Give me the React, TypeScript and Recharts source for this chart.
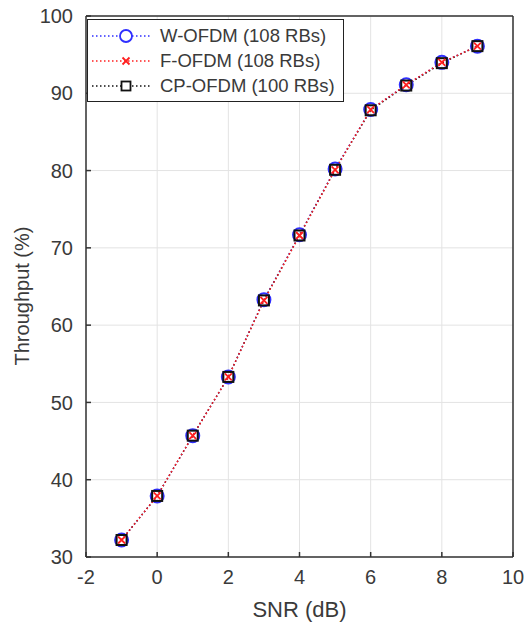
import React from 'react';
import {
  LineChart,
  Line,
  XAxis,
  YAxis,
  CartesianGrid,
  ReferenceLine,
  Label
} from 'recharts';

const snr = [-1, 0, 1, 2, 3, 4, 5, 6, 7, 8, 9];
const wOfdm = [32.2, 37.9, 45.7, 53.3, 63.3, 71.7, 80.2, 87.9, 91.1, 94.0, 96.1];
const fOfdm = [32.2, 37.9, 45.7, 53.3, 63.2, 71.6, 80.1, 87.9, 91.1, 94.0, 96.1];
const cpOfdm = [32.2, 37.9, 45.7, 53.3, 63.2, 71.6, 80.1, 87.8, 91.0, 93.9, 96.1];

const xTicks = [-2, 0, 2, 4, 6, 8, 10];
const yTicks = [30, 40, 50, 60, 70, 80, 90, 100];

const data = snr.map((x, i) => ({ snr: x, w: wOfdm[i], f: fOfdm[i], cp: cpOfdm[i] }));

const font = '"Liberation Sans", Arial, Helvetica, sans-serif';
const txt = '#3a3a3a';

const BLUE = '#2f2fff';
const RED = '#ff1f1f';
const BLACK = '#111';

const circleDot = (p: any) => (
  <circle key={'w' + p.index} cx={p.cx} cy={p.cy} r={6.5} fill="none" stroke={BLUE} strokeWidth={2} />
);
const squareDot = (p: any) => (
  <rect key={'c' + p.index} x={p.cx - 5} y={p.cy - 5} width={10} height={10} fill="none" stroke={BLACK} strokeWidth={2} />
);
const crossDot = (p: any) => (
  <path
    key={'f' + p.index}
    d={`M${p.cx - 3.5},${p.cy - 3.5}L${p.cx + 3.5},${p.cy + 3.5}M${p.cx + 3.5},${p.cy - 3.5}L${p.cx - 3.5},${p.cy + 3.5}`}
    stroke={RED}
    strokeWidth={1.8}
    fill="none"
  />
);

const legendItems = [
  { name: 'W-OFDM (108 RBs)', color: BLUE, marker: 'o' },
  { name: 'F-OFDM (108 RBs)', color: RED, marker: 'x' },
  { name: 'CP-OFDM (100 RBs)', color: BLACK, marker: 's' }
];

const LegendBox = () => (
  <div
    style={{
      position: 'absolute',
      left: 87,
      top: 19,
      width: 255,
      height: 78,
      border: '1.5px solid #222',
      background: '#fff',
      fontFamily: font,
      fontSize: 18.5,
      color: txt,
      paddingTop: 3
    }}
  >
    {legendItems.map(it => (
      <div key={it.name} style={{ display: 'flex', alignItems: 'center', height: 25 }}>
        <svg width={72} height={20} style={{ flex: 'none' }}>
          <line x1={4} y1={10} x2={64} y2={10} stroke={it.color} strokeWidth={1.3} strokeDasharray="1.5 2.5" />
          {it.marker === 'o' && <circle cx={38} cy={10} r={6} fill="#fff" stroke={it.color} strokeWidth={1.8} />}
          {it.marker === 'x' && (
            <path d="M34.5,6.5L41.5,13.5M41.5,6.5L34.5,13.5" stroke={it.color} strokeWidth={1.8} />
          )}
          {it.marker === 's' && <rect x={33.5} y={5.5} width={9} height={9} fill="#fff" stroke={it.color} strokeWidth={1.8} />}
        </svg>
        <span style={{ whiteSpace: 'nowrap' }}>{it.name}</span>
      </div>
    ))}
  </div>
);

export default function App() {
  return (
    <div style={{ position: 'absolute', left: 0, top: 0, width: 526, height: 623, background: '#fff' }}>
      <LineChart width={526} height={623} data={data} margin={{ top: 16, right: 13, left: 26, bottom: 4 }}>
        <CartesianGrid stroke="#e3e3e3" strokeWidth={1} />
        <XAxis
          dataKey="snr"
          type="number"
          domain={[-2, 10]}
          ticks={xTicks}
          height={62}
          tickSize={-5}
          tickMargin={18}
          stroke="#333"
          strokeWidth={1.5}
          tick={{ fill: txt, fontSize: 20, fontFamily: font }}
        >
          <Label value="SNR (dB)" position="insideBottom" offset={2} style={{ fill: txt, fontSize: 22, fontFamily: font }} />
        </XAxis>
        <YAxis
          type="number"
          domain={[30, 100]}
          ticks={yTicks}
          width={60}
          tickSize={-5}
          tickMargin={18}
          stroke="#333"
          strokeWidth={1.5}
          tick={{ fill: txt, fontSize: 20, fontFamily: font }}
        >
          <Label
            content={() => (
              <text
                x={22}
                y={296}
                transform="rotate(-90 22 296)"
                textAnchor="middle"
                dominantBaseline="central"
                style={{ fill: txt, fontSize: 20, fontFamily: font }}
              >
                Throughput (%)
              </text>
            )}
          />
        </YAxis>
        <ReferenceLine y={100} stroke="#333" strokeWidth={1.5} />
        <ReferenceLine x={10} stroke="#333" strokeWidth={1.5} />
        <Line dataKey="w" stroke={BLUE} strokeWidth={1.3} strokeDasharray="1.5 2.5" dot={circleDot} isAnimationActive={false} />
        <Line dataKey="cp" stroke={BLACK} strokeWidth={1.3} strokeDasharray="1.5 2.5" dot={squareDot} isAnimationActive={false} />
        <Line dataKey="f" stroke={RED} strokeWidth={1.6} strokeDasharray="1.5 2.5" dot={crossDot} isAnimationActive={false} />
      </LineChart>
      <LegendBox />
    </div>
  );
}
